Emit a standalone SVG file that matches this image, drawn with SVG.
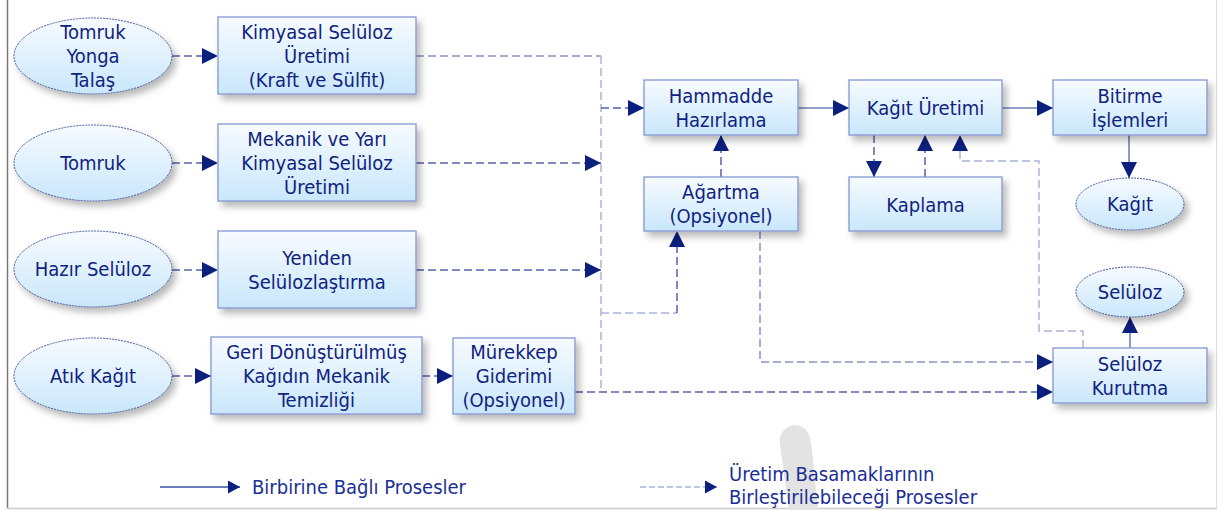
<svg xmlns="http://www.w3.org/2000/svg" width="1227" height="510" viewBox="0 0 1227 510">
<defs>
<linearGradient id="gb" x1="0" y1="0" x2="0" y2="1">
<stop offset="0" stop-color="#f7fbff"/>
<stop offset="1" stop-color="#c9e7fb"/>
</linearGradient>
<filter id="sh" x="-10%" y="-10%" width="130%" height="140%">
<feDropShadow dx="4" dy="5" stdDeviation="3.5" flood-color="#000" flood-opacity="0.28"/>
</filter>
<marker id="ah" markerUnits="userSpaceOnUse" markerWidth="18" markerHeight="18" refX="16" refY="8" orient="auto">
<path d="M0,0 L16,8 L0,16 Z" fill="#0b1f7d"/>
</marker>
<marker id="ahs" markerUnits="userSpaceOnUse" markerWidth="14" markerHeight="14" refX="12" refY="6.5" orient="auto">
<path d="M0,0 L12,6.5 L0,13 Z" fill="#0b1f7d"/>
</marker>
</defs>
<style>
.box{fill:url(#gb);stroke:#8596cf;stroke-width:1.3;filter:url(#sh)}
.ell{fill:url(#gb);stroke:#4a5a9c;stroke-width:1;stroke-dasharray:2,1;filter:url(#sh)}
text{font-family:"DejaVu Sans Condensed","DejaVu Sans",sans-serif;font-size:20px;fill:#10237f;text-anchor:middle;dominant-baseline:central}
.leg{text-anchor:start;font-size:20px;fill:#1a2f95}
.dd{fill:none;stroke:#5563ab;stroke-width:1.5;stroke-dasharray:8,4}
.dm{fill:none;stroke:#8592c6;stroke-width:1.5;stroke-dasharray:8,4}
.dl{fill:none;stroke:#aab3da;stroke-width:1.5;stroke-dasharray:8,4}
.s{fill:none;stroke:#7080b8;stroke-width:1.6}
.a{marker-end:url(#ah)}
</style>
<rect width="1227" height="510" fill="#fff"/>
<line x1="7.5" y1="0" x2="7.5" y2="508" stroke="#777" stroke-width="1.5"/>
<line x1="1216.5" y1="0" x2="1216.5" y2="508" stroke="#ddd" stroke-width="1"/>
<line x1="7" y1="508.5" x2="1217" y2="508.5" stroke="#ccc" stroke-width="1.5"/>
<path d="M780,444 C778,428 794,421 804,428 C810,433 811,442 812,450 L818,510 L789,510 Z" fill="#e3e3e3"/>

<g id="connectors">
<path class="dd a" d="M172,56 H218"/>
<path class="dd a" d="M172,163 H218"/>
<path class="dd a" d="M172,270 H218"/>
<path class="dd a" d="M172,376 H211"/>
<path class="dd a" d="M422,376 H453"/>
<path class="dm" d="M416,56 H601"/>
<path class="dl" d="M601,56 V392"/>
<path class="dd a" d="M601,108 H644"/>
<path class="dd a" d="M416,163 H601"/>
<path class="dd a" d="M416,270 H601"/>
<path class="dl" d="M601,313 H677"/>
<path class="dd a" d="M677,313 V231"/>
<path class="dd a" d="M721,177 V135"/>
<path class="dm a" d="M760,231 V362 H1053"/>
<path class="dd a" d="M575,392 H1053"/>
<path class="s a" d="M798,108 H849"/>
<path class="s a" d="M1002,108 H1053"/>
<path class="s a" d="M1129,135 V178"/>
<path class="s a" d="M1130,348 V317"/>
<path class="dd a" d="M874,135 V177"/>
<path class="dd a" d="M925,177 V135"/>
<path class="dl a" d="M1083,348 V331 H1039 V161 H960 V135"/>
</g>

<g id="n-tomruk-yonga"><ellipse class="ell" cx="93" cy="56" rx="79" ry="38"/><text x="93" y="32">Tomruk</text><text x="93" y="56">Yonga</text><text x="93" y="80">Talaş</text></g>
<g id="n-tomruk"><ellipse class="ell" cx="93" cy="163" rx="79" ry="38"/><text x="93" y="163">Tomruk</text></g>
<g id="n-hazir-seluloz"><ellipse class="ell" cx="93" cy="269" rx="79" ry="38"/><text x="93" y="269">Hazır Selüloz</text></g>
<g id="n-atik-kagit"><ellipse class="ell" cx="93" cy="376" rx="79" ry="38"/><text x="93" y="376">Atık Kağıt</text></g>

<g id="n-kimyasal"><rect class="box" x="218" y="17" width="198" height="77"/><text x="317" y="32">Kimyasal Selüloz</text><text x="317" y="56">Üretimi</text><text x="317" y="80">(Kraft ve Sülfit)</text></g>
<g id="n-mekanik"><rect class="box" x="218" y="124" width="198" height="77"/><text x="317" y="139">Mekanik ve Yarı</text><text x="317" y="163">Kimyasal Selüloz</text><text x="317" y="187">Üretimi</text></g>
<g id="n-yeniden"><rect class="box" x="218" y="231" width="198" height="77"/><text x="317" y="258">Yeniden</text><text x="317" y="282">Selülozlaştırma</text></g>
<g id="n-geri"><rect class="box" x="211" y="337" width="211" height="77"/><text x="316.5" y="352">Geri Dönüştürülmüş</text><text x="316.5" y="376">Kağıdın Mekanik</text><text x="316.5" y="400">Temizliği</text></g>
<g id="n-murekkep"><rect class="box" x="453" y="338" width="122" height="76"/><text x="514" y="352">Mürekkep</text><text x="514" y="376">Giderimi</text><text x="514" y="400">(Opsiyonel)</text></g>

<g id="n-hammadde"><rect class="box" x="644" y="80" width="154" height="55"/><text x="721" y="96">Hammadde</text><text x="721" y="120">Hazırlama</text></g>
<g id="n-agartma"><rect class="box" x="644" y="177" width="154" height="54"/><text x="721" y="192">Ağartma</text><text x="721" y="216">(Opsiyonel)</text></g>
<g id="n-kagit-uretimi"><rect class="box" x="849" y="80" width="153" height="55"/><text x="925.5" y="108">Kağıt Üretimi</text></g>
<g id="n-kaplama"><rect class="box" x="849" y="177" width="153" height="54"/><text x="925.5" y="205">Kaplama</text></g>
<g id="n-bitirme"><rect class="box" x="1053" y="80" width="154" height="55"/><text x="1130" y="96">Bitirme</text><text x="1130" y="120">İşlemleri</text></g>
<g id="n-kagit"><ellipse class="ell" cx="1130" cy="204" rx="54" ry="26"/><text x="1130" y="204">Kağıt</text></g>
<g id="n-seluloz"><ellipse class="ell" cx="1130" cy="292" rx="54" ry="25"/><text x="1130" y="292">Selüloz</text></g>
<g id="n-seluloz-kurutma"><rect class="box" x="1053" y="348" width="154" height="55"/><text x="1130" y="364">Selüloz</text><text x="1130" y="388">Kurutma</text></g>

<g id="legend">
<path d="M160,487 H240" stroke="#3a4fa5" stroke-width="1.3" fill="none" marker-end="url(#ahs)"/>
<text class="leg" x="252" y="487">Birbirine Bağlı Prosesler</text>
<path d="M640,487 H717" stroke="#aab3da" stroke-width="1.3" stroke-dasharray="6,3" fill="none" marker-end="url(#ahs)"/>
<text class="leg" x="729" y="474">Üretim Basamaklarının</text>
<text class="leg" x="729" y="497">Birleştirilebileceği Prosesler</text>
</g>
</svg>
